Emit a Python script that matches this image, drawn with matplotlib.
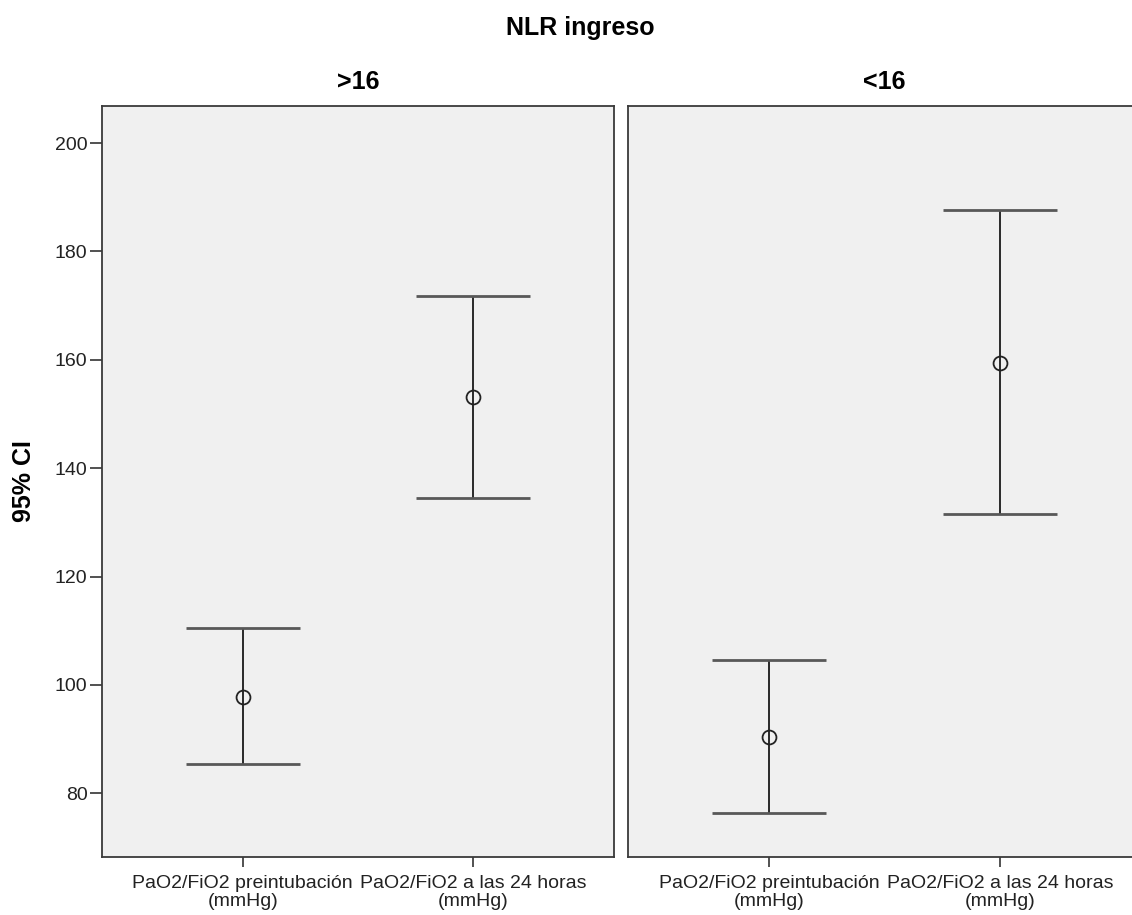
import matplotlib
matplotlib.use("Agg")
import matplotlib.pyplot as plt

plt.rcParams["font.family"] = ["Liberation Sans", "DejaVu Sans"]

# ---- data ----
panels = [">16", "<16"]
categories = ["PaO2/FiO2 preintubación\n(mmHg)", "PaO2/FiO2 a las 24 horas\n(mmHg)"]
mean_hi = [97.8, 153.1]
lower_hi = [85.4, 134.5]
upper_hi = [110.6, 171.8]
mean_lo = [90.4, 159.5]
lower_lo = [76.3, 131.6]
upper_lo = [104.7, 187.6]
yticks = [80, 100, 120, 140, 160, 180, 200]

W, H = 1132, 915
fig = plt.figure(figsize=(W / 100, H / 100), dpi=100)

top, bottom = 105.7, 857.3
boxes = [(102, 614), (628, 1141)]
series = [(mean_hi, lower_hi, upper_hi), (mean_lo, lower_lo, upper_lo)]

axes = []
for (x0, x1), label, (m, lo, hi) in zip(boxes, panels, series):
    ax = fig.add_axes([x0 / W, 1 - bottom / H, (x1 - x0) / W, (bottom - top) / H])
    ax.set_facecolor("#f0f0f0")
    xs = list(range(len(categories)))
    err = [[mi - l for mi, l in zip(m, lo)], [h - mi for mi, h in zip(m, hi)]]
    _, caps, bars = ax.errorbar(xs, m, yerr=err, fmt="o", mfc="none", mec="#222222",
                                mew=1.3, ms=10, ecolor="#1a1a1a", elinewidth=1.3,
                                capsize=41, capthick=2.0)
    for c in caps:
        c.set_markeredgecolor("#585858")
        c.set_markeredgewidth(2.0)
    ax.set_xlim(-0.61, 1.61)
    ax.set_ylim(68.2, 206.9)
    ax.set_xticks(xs)
    ax.set_xticklabels(categories, fontsize=14, linespacing=1.08)
    ax.set_yticks(yticks)
    ax.tick_params(axis="y", direction="out", length=8.5, width=1.1, pad=2,
                   labelsize=14, colors="#222222")
    ax.tick_params(axis="x", direction="out", length=7, width=1.1, pad=6,
                   colors="#222222")
    for s in ax.spines.values():
        s.set_color("#3a3a3a")
        s.set_linewidth(1.3)
    ax.text(0.5, 1 + (top - 82) / (bottom - top), label, transform=ax.transAxes,
            ha="center", va="center", fontsize=18, fontweight="bold")
    axes.append(ax)

axes[1].set_yticks([])
axes[1].tick_params(axis="y", length=0)

fig.text(580 / W, 1 - 28 / H, "NLR ingreso", ha="center", va="center",
         fontsize=18, fontweight="bold")
fig.text(24 / W, 1 - 481 / H, "95% CI", ha="center", va="center", rotation=90,
         fontsize=18, fontweight="bold")

fig.savefig("out.png", dpi=100)
